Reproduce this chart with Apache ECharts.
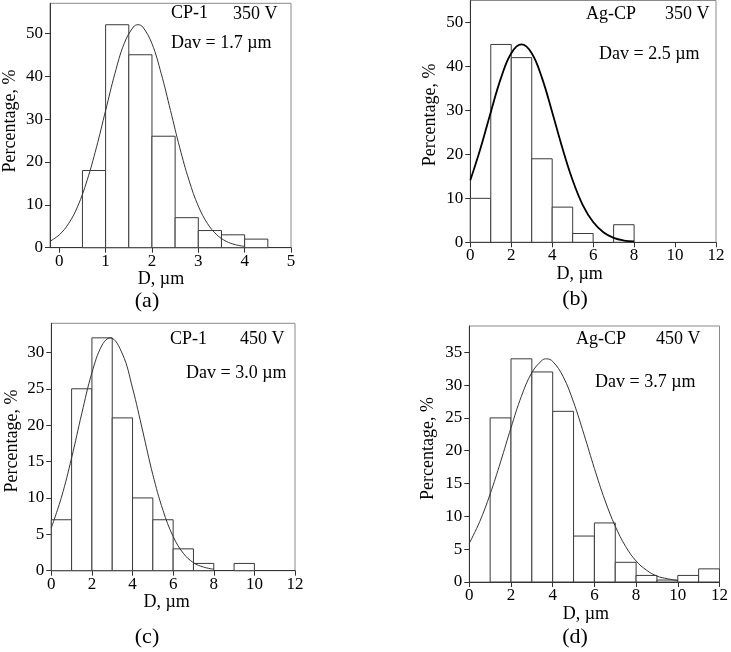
<!DOCTYPE html>
<html>
<head>
<meta charset="utf-8">
<script src="https://cdn.jsdelivr.net/npm/echarts@6/dist/echarts.min.js"></script>
<style>
html,body{margin:0;padding:0;background:#fff;}
#chart{width:731px;height:652px;}
</style>
</head>
<body>
<div id="chart"></div>
<script>
// ---------- DATA ----------
// (a) CP-1, 350 V
const aBinStart = [0.5, 1.0, 1.5, 2.0, 2.5, 3.0, 3.5, 4.0];
const aBinEnd   = [1.0, 1.5, 2.0, 2.5, 3.0, 3.5, 4.0, 4.5];
const aHeights  = [18, 52, 45, 26, 7, 4, 3, 2];
const aCurveX = [-0.2, 0, 0.2, 0.4, 0.6, 0.8, 1.0, 1.2, 1.4, 1.6, 1.7, 1.8, 2.0, 2.2, 2.4, 2.6, 2.8, 3.0, 3.2, 3.4, 3.6, 3.8, 4.0];
const aCurveY = [1.5, 3.0, 5.6, 9.7, 15.7, 23.3, 32.0, 40.6, 47.6, 51.5, 52, 51.5, 47.6, 40.6, 32.0, 23.3, 15.7, 9.7, 5.6, 3.0, 1.5, 0.7, 0.3];
const aXTicks = [0, 1, 2, 3, 4, 5];
const aYTicks = [0, 10, 20, 30, 40, 50];

// (b) Ag-CP, 350 V
const bBinStart = [0, 1, 2, 3, 4, 5, 7];
const bBinEnd   = [1, 2, 3, 4, 5, 6, 8];
const bHeights  = [10, 45, 42, 19, 8, 2, 4];
const bCurveX = [0, 0.5, 1, 1.5, 2, 2.5, 3, 3.5, 4, 4.5, 5, 5.5, 6, 6.5, 7, 7.5, 8];
const bCurveY = [14.1, 21.4, 29.6, 37.4, 43.0, 45, 43.0, 37.4, 29.6, 21.4, 14.1, 8.4, 4.6, 2.3, 1.0, 0.4, 0.2];
const bXTicks = [0, 2, 4, 6, 8, 10, 12];
const bYTicks = [0, 10, 20, 30, 40, 50];

// (c) CP-1, 450 V
const cBinStart = [0, 1, 2, 3, 4, 5, 6, 7, 9];
const cBinEnd   = [1, 2, 3, 4, 5, 6, 7, 8, 10];
const cHeights  = [7, 25, 32, 21, 10, 7, 3, 1, 1];
const cCurveX = [0, 0.5, 1, 1.5, 2, 2.5, 2.9, 3.5, 4, 4.5, 5, 5.5, 6, 6.5, 7, 7.5, 8];
const cCurveY = [5.9, 10.1, 15.5, 21.6, 27.2, 31.0, 32, 29.8, 25.1, 19.2, 13.2, 8.3, 4.7, 2.4, 1.1, 0.5, 0.2];
const cXTicks = [0, 2, 4, 6, 8, 10, 12];
const cYTicks = [0, 5, 10, 15, 20, 25, 30];

// (d) Ag-CP, 450 V
const dBinStart = [1, 2, 3, 4, 5, 6, 7, 8, 9, 10, 11];
const dBinEnd   = [2, 3, 4, 5, 6, 7, 8, 9, 10, 11, 12];
const dHeights  = [25, 34, 32, 26, 7, 9, 3, 1, 0.3, 1, 2];
const dCurveX = [0, 0.5, 1, 1.5, 2, 2.5, 3, 3.5, 3.7, 4, 4.5, 5, 5.5, 6, 6.5, 7, 7.5, 8, 8.5, 9, 9.5, 10];
const dCurveY = [5.9, 9.2, 13.4, 18.3, 23.5, 28.3, 31.9, 33.8, 34, 33.6, 31.3, 27.4, 22.5, 17.3, 12.5, 8.5, 5.4, 3.2, 1.8, 0.9, 0.5, 0.2];
const dXTicks = [0, 2, 4, 6, 8, 10, 12];
const dYTicks = [0, 5, 10, 15, 20, 25, 30, 35];

const xName = 'D, \u00b5m';
const yName = 'Percentage, %';
const panelTexts = [
  ['CP-1', '350 V', 'Dav = 1.7 \u00b5m', '(a)'],
  ['Ag-CP', '350 V', 'Dav = 2.5 \u00b5m', '(b)'],
  ['CP-1', '450 V', 'Dav = 3.0 \u00b5m', '(c)'],
  ['Ag-CP', '450 V', 'Dav = 3.7 \u00b5m', '(d)']
];

// ---------- CHART ----------
const FONT = "'Liberation Serif', 'Times New Roman', serif";
const panels = [
  {start: aBinStart, end: aBinEnd, h: aHeights, cx: aCurveX, cy: aCurveY, xt: aXTicks, yt: aYTicks,
   xmin: -0.2, xmax: 5, ymax: 57, grid: {left: 47.3, top: 3.3, width: 243.7, height: 244.4},
   lw: 1, lc: '#333', xGap: 15, xPad: 19, yGap: 31, yPad: 9},
  {start: bBinStart, end: bBinEnd, h: bHeights, cx: bCurveX, cy: bCurveY, xt: bXTicks, yt: bYTicks,
   xmin: 0, xmax: 12, ymax: 55, grid: {left: 470.3, top: 0.5, width: 245.7, height: 241.8},
   lw: 1.8, lc: '#000', xGap: 21, xPad: 27, yGap: 31, yPad: 13},
  {start: cBinStart, end: cBinEnd, h: cHeights, cx: cCurveX, cy: cCurveY, xt: cXTicks, yt: cYTicks,
   xmin: 0, xmax: 12, ymax: 34, grid: {left: 51.3, top: 323.3, width: 243.7, height: 247.4},
   lw: 1, lc: '#333', xGap: 21, xPad: 13, yGap: 30, yPad: 12},
  {start: dBinStart, end: dBinEnd, h: dHeights, cx: dCurveX, cy: dCurveY, xt: dXTicks, yt: dYTicks,
   xmin: 0, xmax: 12, ymax: 39, grid: {left: 469.3, top: 326, width: 254, height: 256},
   lw: 1, lc: '#333', xGap: 14, xPad: 17, yGap: 32, yPad: 11}
];

const grids = [], xAxes = [], yAxes = [], series = [];
panels.forEach((p, i) => {
  grids.push(Object.assign({show: true, borderColor: '#8a8a8a', borderWidth: 1, backgroundColor: 'transparent'}, p.grid));
  xAxes.push({
    type: 'value', gridIndex: i, min: p.xmin, max: p.xmax,
    name: xName, nameLocation: 'middle', nameGap: p.xGap,
    nameTextStyle: {fontFamily: FONT, fontSize: 18, color: '#000', padding: [0, p.xPad, 0, 0]},
    axisLine: {show: true, onZero: false, lineStyle: {color: '#333', width: 1}},
    axisTick: {show: true, length: 5, customValues: p.xt, lineStyle: {color: '#333'}},
    axisLabel: {customValues: p.xt, fontFamily: FONT, fontSize: 17, color: '#000', margin: 5},
    splitLine: {show: false}
  });
  yAxes.push({
    type: 'value', gridIndex: i, min: 0, max: p.ymax,
    name: yName, nameLocation: 'middle', nameGap: p.yGap, nameRotate: 90,
    nameTextStyle: {fontFamily: FONT, fontSize: 18, color: '#000', padding: [0, 0, 0, p.yPad]},
    axisLine: {show: true, onZero: false, lineStyle: {color: '#333', width: 1}},
    axisTick: {show: true, length: 5, customValues: p.yt, lineStyle: {color: '#333'}},
    axisLabel: {customValues: p.yt, fontFamily: FONT, fontSize: 17, color: '#000', margin: 7},
    splitLine: {show: false}
  });
  const binData = p.h.map((v, k) => [p.start[k], p.end[k], v]);
  series.push({
    type: 'custom', xAxisIndex: i, yAxisIndex: i, z: 2,
    encode: {x: [0, 1], y: 2},
    data: binData,
    renderItem: function (params, api) {
      const p0 = api.coord([api.value(0), api.value(2)]);
      const p1 = api.coord([api.value(1), 0]);
      return {
        type: 'rect',
        shape: {x: p0[0], y: p0[1], width: p1[0] - p0[0], height: p1[1] - p0[1]},
        style: {fill: '#fff', stroke: '#3a3a3a', lineWidth: 1}
      };
    }
  });
  series.push({
    type: 'line', xAxisIndex: i, yAxisIndex: i, z: 3,
    data: p.cx.map((x, k) => [x, p.cy[k]]),
    smooth: 0.4, showSymbol: false, symbol: 'none',
    lineStyle: {color: p.lc, width: p.lw}
  });
});

// annotation positions (pixel layout)
const annoPos = [
  {lab: [171, 13], volt: [233, 14], dav: [171, 43], cap: [147, 301]},
  {lab: [586, 14], volt: [665, 14], dav: [599, 54], cap: [575, 299]},
  {lab: [170, 339], volt: [240, 339], dav: [186, 373], cap: [147, 637]},
  {lab: [576, 339], volt: [656, 339], dav: [595, 382], cap: [575, 637]}
];
const graphics = [];
panelTexts.forEach((t, i) => {
  const ps = annoPos[i];
  const mk = (txt, pos, size, align) => ({
    type: 'text', x: pos[0], y: pos[1], z: 10,
    style: {text: txt, fill: '#000', font: size + 'px ' + FONT, align: align, verticalAlign: 'middle'}
  });
  graphics.push(mk(t[0], ps.lab, 18, 'left'));
  graphics.push(mk(t[1], ps.volt, 18, 'left'));
  graphics.push(mk(t[2], ps.dav, 18, 'left'));
  graphics.push(mk(t[3], ps.cap, 22, 'center'));
});

const chart = echarts.init(document.getElementById('chart'), null, {renderer: 'canvas'});
chart.setOption({
  animation: false,
  backgroundColor: '#fff',
  grid: grids,
  xAxis: xAxes,
  yAxis: yAxes,
  series: series,
  graphic: graphics
});
</script>
</body>
</html>
